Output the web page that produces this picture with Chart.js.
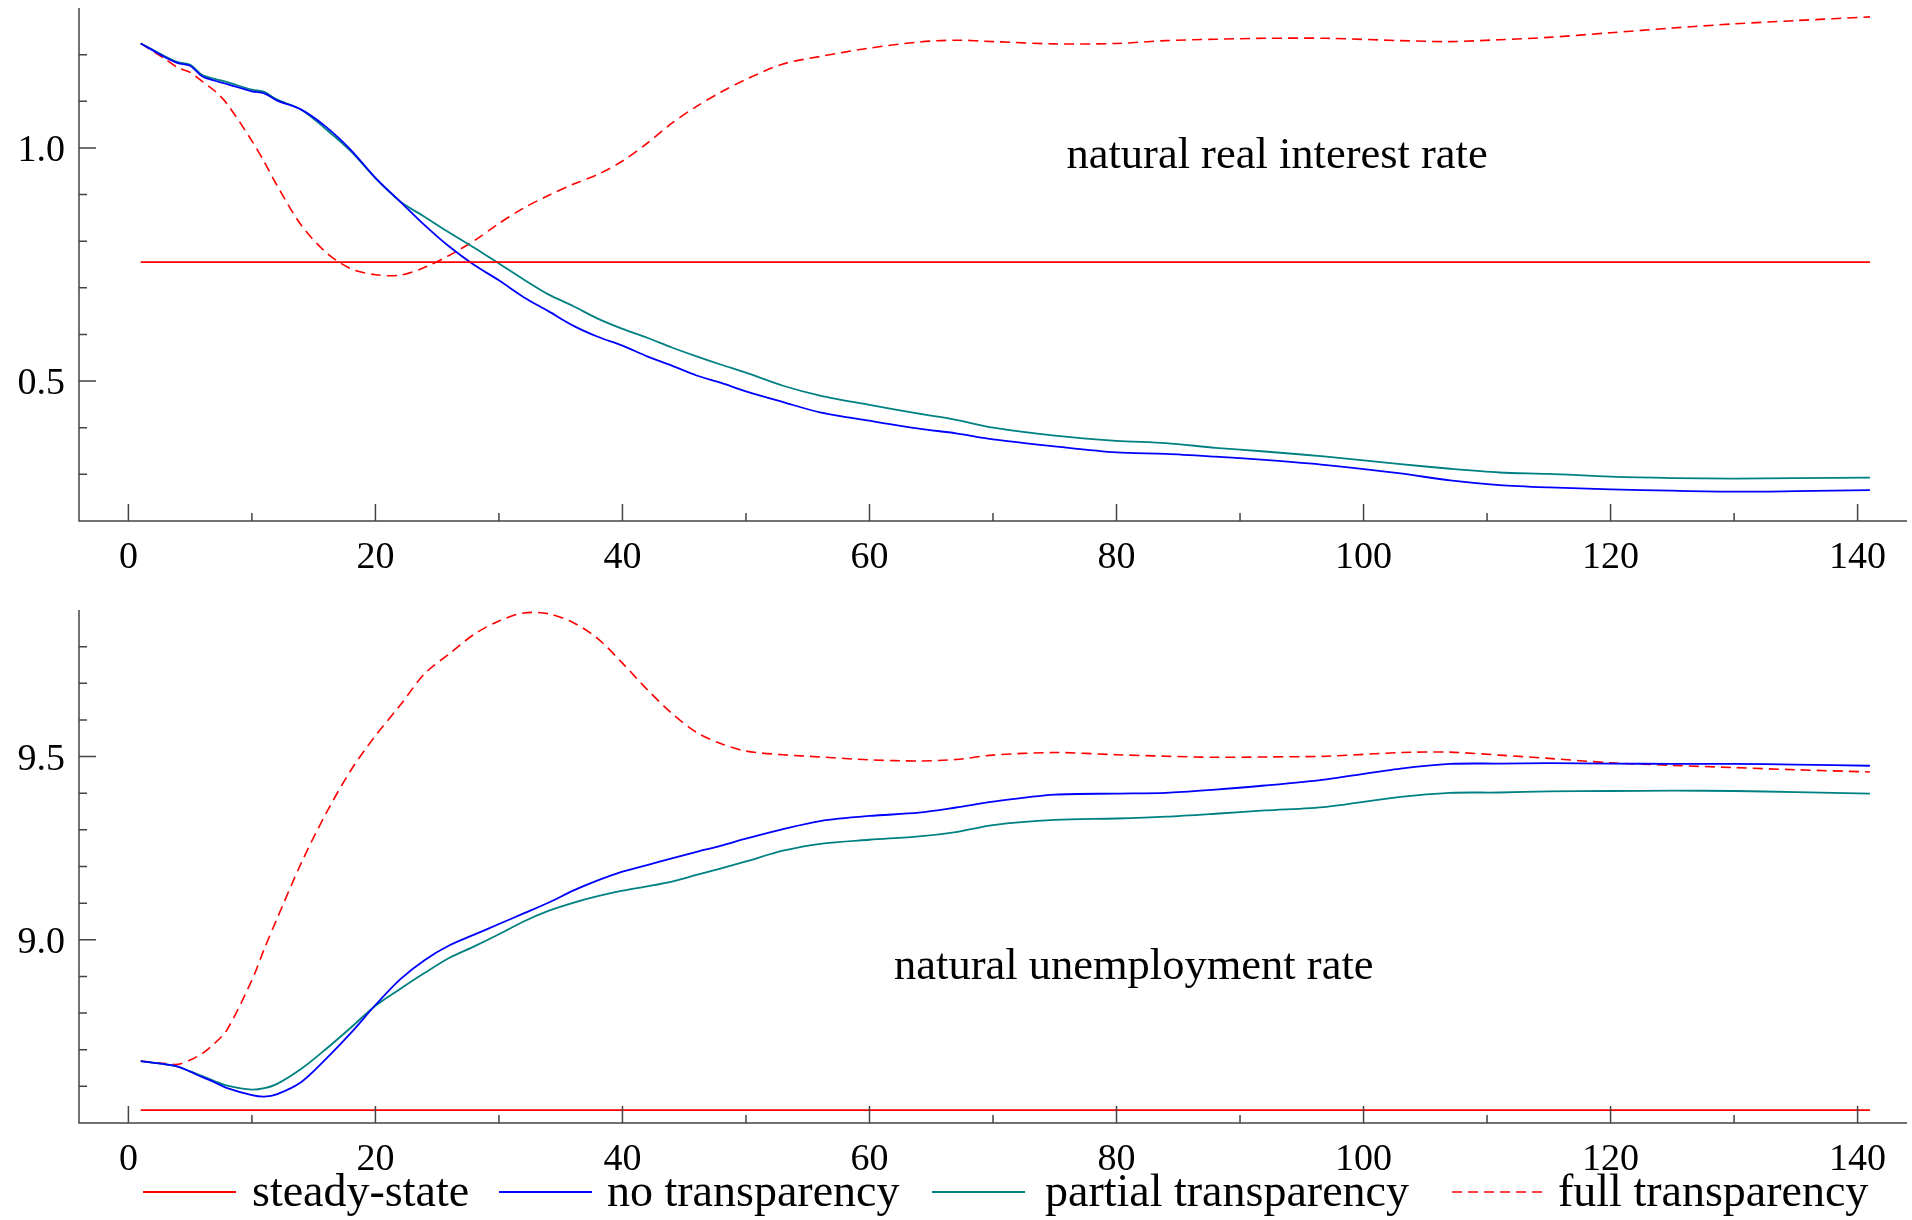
<!DOCTYPE html>
<html>
<head>
<meta charset="utf-8">
<script src="https://cdn.jsdelivr.net/npm/chart.js@4.4.0/dist/chart.umd.min.js"></script>
<style>
  html, body { margin: 0; padding: 0; background: #fff; }
  canvas { display: block; }
</style>
</head>
<body>
<canvas id="rateChart" width="1912" height="580"></canvas>
<canvas id="unempChart" width="1912" height="640"></canvas>
<script>
const periods = [1, 3, 4, 5, 6, 7, 8, 10, 11, 12, 14, 16, 18, 20, 22, 24, 26, 28, 30, 32, 34, 36, 38, 40,
  42, 44, 46, 48, 50, 53, 56, 60, 64, 67, 70, 75, 80, 84, 88, 92, 97, 103, 107, 111, 115, 120, 125, 130, 135, 141];
const steadyPeriods = [1, 141];

// natural real interest rate
const rateSteady = [0.755, 0.755];
const rateNone = [1.224, 1.194, 1.182, 1.176, 1.153, 1.144, 1.137, 1.121, 1.117, 1.102, 1.082, 1.045, 0.996, 0.936,
  0.885, 0.834, 0.788, 0.749, 0.716, 0.680, 0.650, 0.619, 0.595, 0.576, 0.553, 0.533, 0.512, 0.496, 0.478, 0.455,
  0.433, 0.415, 0.398, 0.388, 0.375, 0.360, 0.347, 0.344, 0.338, 0.331, 0.320, 0.302, 0.287, 0.277, 0.272, 0.268,
  0.265, 0.263, 0.264, 0.266];
const ratePartial = [1.224, 1.196, 1.184, 1.178, 1.156, 1.148, 1.141, 1.125, 1.120, 1.104, 1.082, 1.040, 0.993, 0.935,
  0.885, 0.852, 0.818, 0.786, 0.752, 0.718, 0.686, 0.661, 0.634, 0.612, 0.593, 0.572, 0.553, 0.535, 0.518, 0.490,
  0.469, 0.449, 0.430, 0.417, 0.400, 0.383, 0.372, 0.367, 0.357, 0.349, 0.338, 0.322, 0.312, 0.304, 0.301, 0.295,
  0.292, 0.291, 0.292, 0.293];
const rateFull = [1.224, 1.190, 1.172, 1.162, 1.142, 1.122, 1.094, 1.015, 0.970, 0.921, 0.834, 0.776, 0.741, 0.728,
  0.727, 0.744, 0.770, 0.801, 0.838, 0.871, 0.898, 0.922, 0.943, 0.972, 1.010, 1.053, 1.089, 1.120, 1.147, 1.180,
  1.196, 1.214, 1.227, 1.231, 1.228, 1.223, 1.224, 1.230, 1.233, 1.235, 1.235, 1.230, 1.228, 1.232, 1.237, 1.247,
  1.257, 1.266, 1.273, 1.281];

// natural unemployment rate
const unempSteady = [8.535, 8.535];
const unempNone = [8.669, 8.660, 8.654, 8.640, 8.625, 8.611, 8.595, 8.576, 8.572, 8.578, 8.612, 8.675, 8.745, 8.822,
  8.892, 8.945, 8.985, 9.014, 9.043, 9.072, 9.101, 9.134, 9.162, 9.186, 9.204, 9.222, 9.240, 9.257, 9.276, 9.302,
  9.324, 9.338, 9.347, 9.361, 9.377, 9.396, 9.399, 9.401, 9.410, 9.421, 9.438, 9.467, 9.480, 9.481, 9.482, 9.481,
  9.480, 9.480, 9.478, 9.475];
const unempPartial = [8.669, 8.660, 8.654, 8.641, 8.628, 8.614, 8.602, 8.591, 8.595, 8.606, 8.648, 8.702, 8.760, 8.820,
  8.866, 8.910, 8.951, 8.982, 9.015, 9.050, 9.079, 9.101, 9.119, 9.134, 9.146, 9.159, 9.177, 9.195, 9.214, 9.243,
  9.262, 9.273, 9.282, 9.294, 9.313, 9.327, 9.331, 9.336, 9.344, 9.353, 9.363, 9.390, 9.401, 9.402, 9.405, 9.406,
  9.407, 9.406, 9.403, 9.399];
const unempFull = [8.669, 8.662, 8.660, 8.672, 8.690, 8.718, 8.755, 8.890, 8.975, 9.055, 9.210, 9.345, 9.462, 9.557,
  9.640, 9.727, 9.781, 9.834, 9.870, 9.892, 9.890, 9.866, 9.822, 9.755, 9.683, 9.618, 9.566, 9.535, 9.515, 9.505,
  9.499, 9.491, 9.488, 9.492, 9.504, 9.511, 9.505, 9.501, 9.498, 9.499, 9.501, 9.511, 9.512, 9.504, 9.495, 9.483,
  9.476, 9.470, 9.464, 9.458];

const legendLabels = ['steady-state', 'no transparency', 'partial transparency', 'full transparency'];
const xTickLabels = [0, 20, 40, 60, 80, 100, 120, 140];
const xMinorTicks = [10, 30, 50, 70, 90, 110, 130];
const rateTicks = [0.3, 0.4, 0.5, 0.6, 0.7, 0.8, 0.9, 1.0, 1.1, 1.2];
const rateTickLabels = [0.5, 1.0];
const unempTicks = [8.6, 8.7, 8.8, 8.9, 9.0, 9.1, 9.2, 9.3, 9.4, 9.5, 9.6, 9.7, 9.8];
const unempTickLabels = [9.0, 9.5];

const serif = '"Liberation Serif", "Times New Roman", serif';

function pts(xs, ys) {
  return ys.map((v, i) => ({ x: xs[i], y: v }));
}

function makeSets(steady, none, partial, full) {
  return [
    { label: legendLabels[0], data: pts(steadyPeriods, steady), borderColor: '#ff0000', borderWidth: 1.8 },
    { label: legendLabels[1], data: pts(periods, none), borderColor: '#0000ff', borderWidth: 1.8 },
    { label: legendLabels[2], data: pts(periods, partial), borderColor: '#008080', borderWidth: 1.8 },
    { label: legendLabels[3], data: pts(periods, full), borderColor: '#ff0000', borderWidth: 1.6, borderDash: [10, 6] }
  ];
}

// axes with inward ticks, tick labels, panel note and legend
const framePlugin = {
  id: 'frame',
  afterDraw(chart, args, opts) {
    const { ctx, chartArea: a, scales: { x, y } } = chart;
    ctx.save();
    ctx.strokeStyle = '#444';
    ctx.lineWidth = 1.5;
    ctx.beginPath();
    ctx.moveTo(a.left, a.top);
    ctx.lineTo(a.left, a.bottom);
    ctx.lineTo(a.right, a.bottom);
    opts.yTicks.forEach(v => {
      const py = y.getPixelForValue(v);
      ctx.moveTo(a.left, py);
      ctx.lineTo(a.left + (opts.yLabels.includes(v) ? 17 : 8), py);
    });
    xTickLabels.forEach(v => {
      const px = x.getPixelForValue(v);
      ctx.moveTo(px, a.bottom);
      ctx.lineTo(px, a.bottom - 17);
    });
    xMinorTicks.forEach(v => {
      const px = x.getPixelForValue(v);
      ctx.moveTo(px, a.bottom);
      ctx.lineTo(px, a.bottom - 8);
    });
    ctx.stroke();

    ctx.fillStyle = '#000';
    ctx.font = '38px ' + serif;
    ctx.textAlign = 'right';
    opts.yLabels.forEach(v => ctx.fillText(v.toFixed(1), a.left - 14, y.getPixelForValue(v) + 13));
    ctx.textAlign = 'center';
    xTickLabels.forEach(v => ctx.fillText(String(v), x.getPixelForValue(v), a.bottom + 47));

    ctx.font = '44.5px ' + serif;
    ctx.fillText(opts.note.text, x.getPixelForValue(opts.note.x), y.getPixelForValue(opts.note.y));

    if (opts.legend) {
      const lineX = [143, 499, 932, 1452];
      const textX = [252, 607, 1045, 1558];
      const ly = a.bottom + 69;
      ctx.font = '46px ' + serif;
      ctx.textAlign = 'left';
      chart.data.datasets.forEach((ds, i) => {
        ctx.strokeStyle = ds.borderColor;
        ctx.lineWidth = ds.borderWidth;
        ctx.setLineDash(ds.borderDash || []);
        ctx.beginPath();
        ctx.moveTo(lineX[i], ly);
        ctx.lineTo(lineX[i] + 93, ly);
        ctx.stroke();
        ctx.setLineDash([]);
        ctx.fillText(ds.label, textX[i], ly + 14);
      });
    }
    ctx.restore();
  }
};

function makeChart(id, datasets, yMin, yMax, pad, frame) {
  return new Chart(document.getElementById(id), {
    type: 'line',
    data: { datasets },
    options: {
      responsive: false,
      animation: false,
      layout: { padding: pad },
      elements: { point: { radius: 0 }, line: { tension: 0.3, fill: false } },
      scales: {
        x: { type: 'linear', min: -4, max: 144, display: false },
        y: { min: yMin, max: yMax, display: false }
      },
      plugins: { legend: { display: false }, tooltip: { enabled: false }, frame }
    },
    plugins: [framePlugin]
  });
}

makeChart('rateChart', makeSets(rateSteady, rateNone, ratePartial, rateFull), 0.2, 1.3,
  { left: 79, right: 5, top: 8, bottom: 59 },
  { yTicks: rateTicks, yLabels: rateTickLabels, note: { text: 'natural real interest rate', x: 93, y: 0.956 }, legend: false });

makeChart('unempChart', makeSets(unempSteady, unempNone, unempPartial, unempFull), 8.5, 9.9,
  { left: 79, right: 5, top: 30, bottom: 97 },
  { yTicks: unempTicks, yLabels: unempTickLabels, note: { text: 'natural unemployment rate', x: 81.4, y: 8.894 }, legend: true });
</script>
</body>
</html>
